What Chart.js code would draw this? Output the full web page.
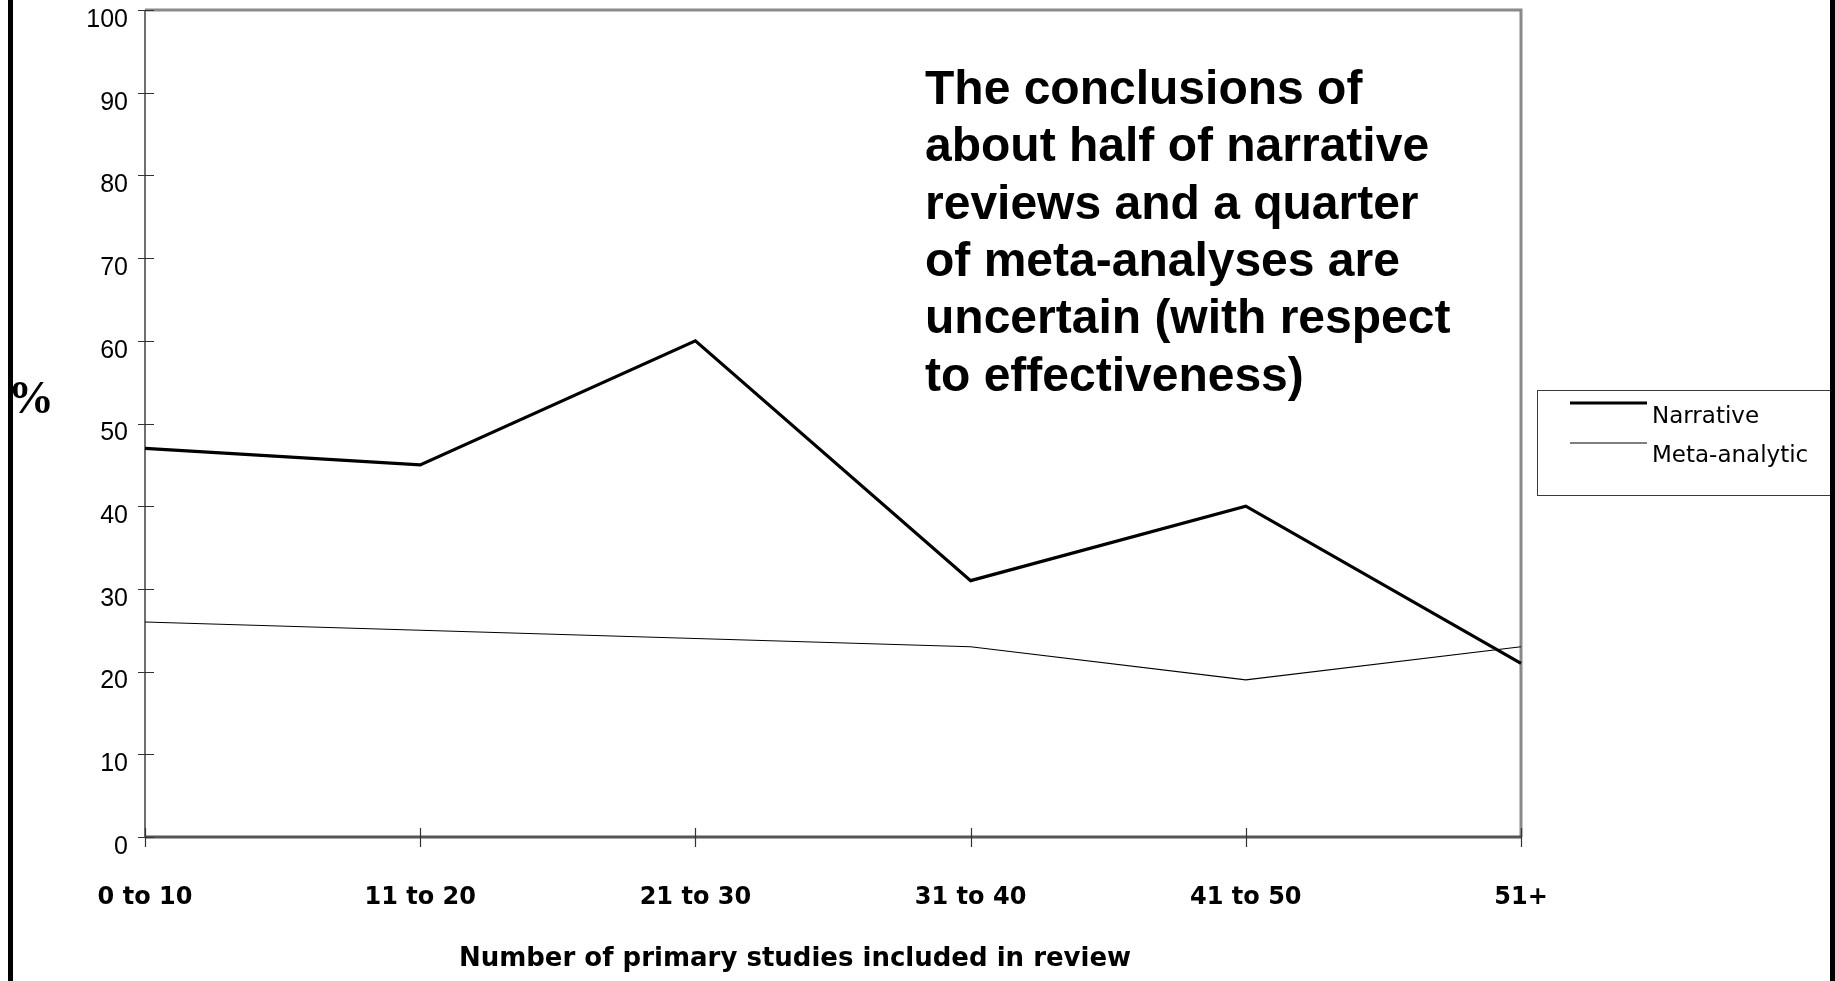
<!DOCTYPE html>
<html>
<head>
<meta charset="utf-8">
<script src="https://cdn.jsdelivr.net/npm/chart.js@4.4.1/dist/chart.umd.min.js"></script>
<style>
  html, body { margin: 0; padding: 0; background: #ffffff; overflow: hidden; }
  #wrap { position: relative; width: 1835px; height: 981px; }
  canvas { display: block; }
</style>
</head>
<body>
<div id="wrap"><canvas id="chart" width="1835" height="981"></canvas></div>
<script>
// Review size bands (x categories)
const categories = ['0 to 10', '11 to 20', '21 to 30', '31 to 40', '41 to 50', '51+'];

// Percentage of reviews with uncertain conclusions
const narrative = [47, 45, 60, 31, 40, 21];
const metaAnalytic = [26, 25, 24, 23, 19, 23];

const seriesNames = ['Narrative', 'Meta-analytic'];

// Y axis range and tick step
const yMin = 0;
const yMax = 100;
const yStep = 10;

const yAxisLabel = '%';
const xAxisTitle = 'Number of primary studies included in review';
const noteLines = [
  'The conclusions of',
  'about half of narrative',
  'reviews and a quarter',
  'of meta-analyses are',
  'uncertain (with respect',
  'to effectiveness)'
];

// Frame, crossing tick marks, note text, legend, axis titles and page edges
const decorations = {
  id: 'decorations',
  beforeDatasetsDraw(chart) {
    const { ctx, chartArea: a, scales: { x, y } } = chart;
    ctx.save();
    // top and right frame
    ctx.strokeStyle = '#8a8a8a';
    ctx.lineWidth = 3;
    ctx.beginPath();
    ctx.moveTo(a.left, a.top);
    ctx.lineTo(a.right, a.top);
    ctx.lineTo(a.right, a.bottom);
    ctx.stroke();
    // left axis
    ctx.strokeStyle = '#707070';
    ctx.lineWidth = 2;
    ctx.beginPath();
    ctx.moveTo(a.left, a.top);
    ctx.lineTo(a.left, a.bottom + 1);
    ctx.stroke();
    // bottom axis
    ctx.strokeStyle = '#555555';
    ctx.lineWidth = 3;
    ctx.beginPath();
    ctx.moveTo(a.left, a.bottom);
    ctx.lineTo(a.right, a.bottom);
    ctx.stroke();
    // tick marks crossing the axes
    ctx.strokeStyle = '#333333';
    ctx.lineWidth = 1.2;
    ctx.beginPath();
    y.ticks.forEach((t, i) => {
      const py = Math.round(y.getPixelForTick(i)) + 0.5;
      ctx.moveTo(a.left - 7, py);
      ctx.lineTo(a.left + 9, py);
    });
    x.ticks.forEach((t, i) => {
      const px = Math.round(x.getPixelForTick(i)) + 0.5;
      ctx.moveTo(px, a.bottom - 9);
      ctx.lineTo(px, a.bottom + 10);
    });
    ctx.stroke();
    ctx.restore();
  },
  afterDraw(chart) {
    const { ctx } = chart;
    ctx.save();

    // note text block
    ctx.fillStyle = '#000000';
    ctx.font = 'bold 48px "Liberation Sans", Arial, sans-serif';
    ctx.textAlign = 'left';
    ctx.textBaseline = 'alphabetic';
    noteLines.forEach((line, i) => {
      ctx.fillText(line, 925, 104 + i * 57.3);
    });

    // x axis title
    ctx.font = 'bold 26px "DejaVu Sans", sans-serif';
    ctx.textAlign = 'center';
    ctx.textBaseline = 'middle';
    ctx.fillText(xAxisTitle, 795, 959);

    // y axis label
    ctx.textAlign = 'left';
    ctx.font = 'bold 46px "Liberation Serif", "Times New Roman", serif';
    ctx.fillText(yAxisLabel, 8, 401);

    // legend box
    ctx.strokeStyle = '#3a3a3a';
    ctx.lineWidth = 1;
    ctx.strokeRect(1537.5, 390.5, 293, 105);
    ctx.font = '23px "DejaVu Sans", sans-serif';
    ctx.textBaseline = 'alphabetic';
    chart.data.datasets.forEach((ds, i) => {
      const ly = 403 + i * 40;
      ctx.strokeStyle = ds.borderColor;
      ctx.lineWidth = ds.borderWidth;
      ctx.beginPath();
      ctx.moveTo(1570, ly);
      ctx.lineTo(1647, ly);
      ctx.stroke();
      ctx.fillStyle = '#000000';
      ctx.fillText(ds.label, 1652, 423 + i * 39);
    });

    // page edges
    ctx.fillStyle = '#000000';
    ctx.fillRect(8, 0, 5, 981);
    ctx.fillRect(1830, 0, 5, 981);
    ctx.restore();
  }
};

new Chart(document.getElementById('chart'), {
  type: 'line',
  data: {
    labels: categories,
    datasets: [
      {
        label: seriesNames[0],
        data: narrative,
        borderColor: '#000000',
        borderWidth: 3.2,
        pointRadius: 0,
        tension: 0,
        fill: false
      },
      {
        label: seriesNames[1],
        data: metaAnalytic,
        borderColor: '#000000',
        borderWidth: 1.1,
        pointRadius: 0,
        tension: 0,
        fill: false
      }
    ]
  },
  options: {
    responsive: false,
    animation: false,
    devicePixelRatio: 1,
    layout: { autoPadding: false, padding: { left: 0, top: 10, right: 314, bottom: 0 } },
    plugins: {
      legend: { display: false },
      tooltip: { enabled: false }
    },
    scales: {
      x: {
        type: 'category',
        offset: false,
        grid: { display: false, drawTicks: false },
        border: { display: false },
        ticks: {
          color: '#000000',
          font: { family: '"DejaVu Sans", sans-serif', size: 24, weight: 'bold' },
          padding: 46,
          maxRotation: 0,
          autoSkip: false
        },
        title: { display: false },
        afterFit(scale) {
          scale.height = 144;
          scale.paddingLeft = 0;
          scale.paddingRight = 0;
        }
      },
      y: {
        min: yMin,
        max: yMax,
        grid: { display: false, drawTicks: false },
        border: { display: false },
        ticks: {
          stepSize: yStep,
          color: '#000000',
          font: { family: '"Liberation Sans", Arial, sans-serif', size: 25 },
          padding: 17,
          labelOffset: 10
        },
        afterFit(scale) {
          scale.width = 145;
          scale.paddingTop = 0;
          scale.paddingBottom = 0;
        }
      }
    }
  },
  plugins: [decorations]
});
</script>
</body>
</html>
